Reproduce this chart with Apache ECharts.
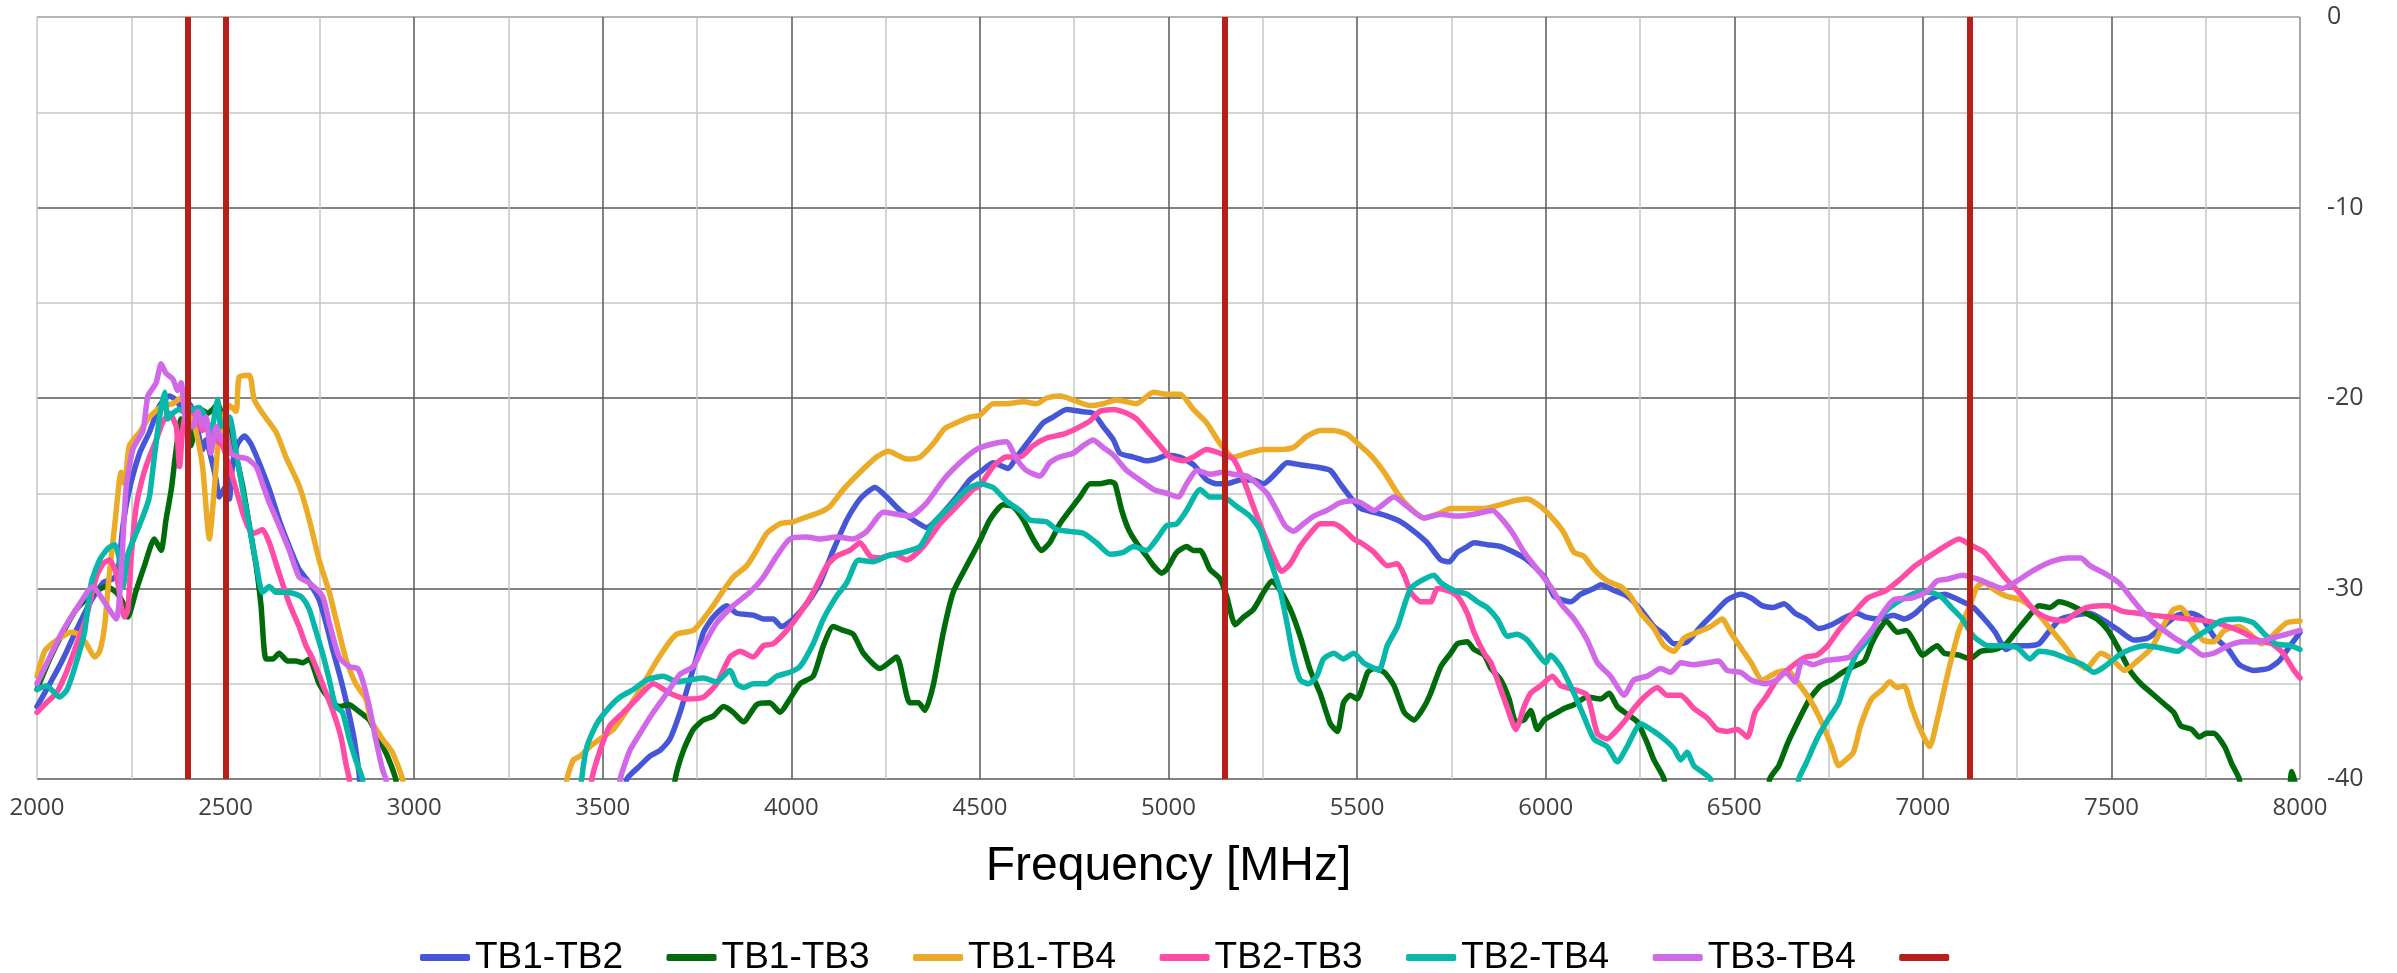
<!DOCTYPE html>
<html>
<head>
<meta charset="utf-8">
<title>Isolation TB pairs</title>
<script src="https://cdn.jsdelivr.net/npm/echarts@6/dist/echarts.min.js"></script>
<style>
  html, body { margin: 0; padding: 0; background: #ffffff; }
  #chart { width: 2397px; height: 973px; }
</style>
</head>
<body>
<div id="chart"></div>
<script>
// Coupling between test boards, [frequency MHz, level dB]. Points below -40 sit off-scale and are clipped.
const tb1tb2 = [
  [2000,-36.2],[2034,-35],[2069,-33.7],[2104,-32.2],[2139,-30.8],[2175,-29.7],[2201,-29.5],[2214,-29.2],[2228,-26.7],[2245,-24.8],
  [2272,-22.9],[2298,-21.8],[2325,-20.4],[2351,-19.9],[2369,-20.1],[2386,-20.6],[2404,-20.3],[2422,-21.3],[2439,-22.7],[2448,-22.2],
  [2461,-23.1],[2475,-24.3],[2483,-25.2],[2501,-24.6],[2510,-25.3],[2519,-23.4],[2532,-22.4],[2550,-22.0],[2567,-22.4],[2589,-23.4],
  [2616,-24.8],[2642,-26.4],[2669,-27.8],[2695,-29],[2722,-29.7],[2748,-30.6],[2766,-31.8],[2784,-33.2],[2806,-34.8],[2823,-36.2],
  [2841,-37.9],[2854,-39.7],[2870,-42],[3540,-42],[3564,-40],[3599,-39.3],[3625,-38.8],[3652,-38.5],[3678,-37.9],[3705,-36.5],
  [3731,-34.8],[3749,-33.6],[3767,-32.3],[3793,-31.5],[3829,-30.9],[3855,-31.3],[3899,-31.4],[3926,-31.6],[3952,-31.6],[3974,-32],
  [4005,-31.6],[4041,-30.8],[4076,-29.7],[4111,-28],[4147,-26.4],[4182,-25.3],[4222,-24.7],[4253,-25.2],[4288,-25.9],[4323,-26.4],
  [4359,-26.8],[4394,-26.2],[4438,-25.2],[4473,-24.3],[4500,-23.9],[4535,-23.4],[4575,-23.7],[4597,-23.1],[4632,-22.2],[4668,-21.3],
  [4694,-21],[4730,-20.6],[4765,-20.7],[4800,-20.8],[4827,-21.5],[4854,-22.2],[4871,-22.9],[4907,-23.1],[4942,-23.3],[4969,-23.2],
  [4995,-23],[5030,-23.1],[5066,-23.5],[5101,-24.3],[5128,-24.5],[5154,-24.5],[5190,-24.3],[5225,-24.3],[5252,-24.5],[5287,-23.9],
  [5314,-23.4],[5349,-23.5],[5385,-23.6],[5429,-23.8],[5455,-24.5],[5482,-25.2],[5510,-25.8],[5545,-26],[5580,-26.2],[5616,-26.5],
  [5651,-27],[5686,-27.6],[5722,-28.5],[5744,-28.6],[5766,-28.1],[5792,-27.8],[5810,-27.6],[5845,-27.7],[5881,-27.8],[5916,-28.1],
  [5951,-28.5],[5978,-29],[6000,-29.5],[6022,-30.4],[6044,-30.6],[6066,-30.7],[6093,-30.3],[6128,-30],[6146,-29.8],[6181,-30.1],
  [6216,-30.4],[6252,-31.1],[6287,-32],[6314,-32.4],[6340,-32.9],[6375,-32.8],[6411,-32],[6446,-31.3],[6481,-30.6],[6517,-30.3],
  [6545,-30.5],[6574,-30.9],[6603,-31],[6632,-30.8],[6661,-31.3],[6690,-31.6],[6724,-32.1],[6758,-31.9],[6796,-31.5],[6825,-31.3],
  [6849,-31.5],[6883,-31.6],[6922,-31.4],[6951,-31.6],[6980,-31.3],[7018,-30.6],[7057,-30.3],[7096,-30.6],[7134,-31],[7163,-31.6],
  [7192,-32.3],[7221,-33.2],[7240,-33],[7279,-33],[7308,-32.9],[7337,-32.2],[7366,-31.6],[7405,-31.4],[7443,-31.3],[7482,-31.7],
  [7520,-32.2],[7559,-32.7],[7597,-32.6],[7636,-32],[7675,-31.4],[7713,-31.3],[7742,-31.6],[7771,-32.5],[7810,-33.2],[7839,-34],
  [7877,-34.3],[7916,-34.2],[7945,-33.8],[7974,-33],[8000,-32.3]
];

const tb1tb3 = [
  [2000,-35.3],[2034,-33.7],[2069,-32.3],[2104,-31.1],[2139,-30.4],[2184,-29.9],[2210,-30.2],[2232,-30.9],[2241,-31.5],[2263,-30.1],
  [2285,-28.8],[2311,-27.4],[2329,-28],[2342,-26.4],[2356,-24.8],[2369,-22.7],[2382,-21.1],[2395,-21.7],[2408,-22.5],[2422,-21],
  [2435,-20.6],[2453,-20.8],[2466,-20.6],[2479,-20.3],[2492,-21],[2510,-21.8],[2528,-23.1],[2545,-24.6],[2563,-26.7],[2581,-28.8],
  [2594,-30.9],[2607,-33.7],[2625,-33.7],[2642,-33.4],[2664,-33.8],[2686,-33.8],[2704,-33.9],[2722,-33.7],[2748,-35],[2775,-35.8],
  [2801,-36.2],[2828,-36.1],[2850,-36.4],[2881,-36.9],[2907,-37.9],[2929,-38.8],[2951,-40],[2965,-42],[3680,-42],[3692,-40],
  [3714,-38.5],[3740,-37.4],[3767,-36.9],[3793,-36.7],[3820,-36.2],[3846,-36.5],[3873,-37],[3908,-36.1],[3943,-36],[3970,-36.5],
  [3996,-35.8],[4023,-35],[4058,-34.6],[4085,-33],[4111,-32],[4138,-32.2],[4164,-32.4],[4191,-33.4],[4235,-34.2],[4279,-33.6],
  [4314,-36],[4337,-36],[4354,-36.4],[4376,-35.1],[4403,-32.3],[4429,-30.2],[4465,-28.8],[4500,-27.5],[4526,-26.4],[4562,-25.6],
  [4588,-25.7],[4615,-26.4],[4641,-27.4],[4663,-28],[4685,-27.6],[4712,-26.6],[4738,-25.9],[4765,-25.2],[4792,-24.5],[4818,-24.5],
  [4845,-24.4],[4858,-24.5],[4876,-25.9],[4894,-26.9],[4915,-27.6],[4942,-28.3],[4960,-28.8],[4982,-29.2],[4995,-29],[5022,-28.1],
  [5048,-27.8],[5066,-28],[5084,-28],[5110,-29],[5137,-29.5],[5154,-30.4],[5177,-31.9],[5199,-31.5],[5225,-31.1],[5252,-30.2],
  [5274,-29.6],[5296,-30.1],[5323,-31.1],[5349,-32.5],[5376,-34.3],[5402,-35.5],[5429,-37.1],[5448,-37.5],[5464,-36],[5482,-35.6],
  [5500,-35.8],[5528,-34.4],[5545,-34.2],[5572,-34.4],[5598,-35.1],[5625,-36.5],[5651,-36.9],[5678,-36.2],[5695,-35.5],[5722,-34.1],
  [5748,-33.4],[5766,-32.9],[5792,-32.8],[5810,-33.2],[5837,-33.5],[5855,-34.2],[5881,-34.8],[5903,-35.8],[5921,-37],[5943,-36.9],
  [5960,-36.4],[5978,-37.4],[5996,-36.9],[6022,-36.6],[6049,-36.3],[6075,-36.1],[6110,-35.7],[6146,-35.8],[6168,-35.5],[6190,-36.2],
  [6216,-36.6],[6243,-37],[6269,-38.1],[6287,-39],[6314,-40],[6330,-42],[6580,-42],[6594,-40],[6618,-39.3],[6642,-38.1],
  [6671,-36.9],[6700,-35.8],[6729,-35.1],[6758,-34.8],[6787,-34.4],[6816,-34.1],[6845,-33.8],[6864,-32.9],[6883,-32.2],[6903,-31.7],
  [6932,-32.3],[6956,-32.2],[6980,-32.9],[6999,-33.5],[7038,-33],[7057,-33.4],[7096,-33.5],[7125,-33.7],[7153,-33.3],[7192,-33.2],
  [7221,-32.9],[7250,-32.2],[7279,-31.5],[7308,-30.9],[7337,-31],[7361,-30.7],[7395,-30.9],[7433,-31.3],[7462,-31.6],[7491,-32.2],
  [7520,-33.2],[7549,-34.3],[7578,-35],[7607,-35.5],[7636,-36],[7665,-36.5],[7684,-37.2],[7713,-37.4],[7733,-37.8],[7752,-37.6],
  [7771,-37.6],[7800,-38.3],[7819,-39.2],[7839,-40],[7855,-42],[7960,-42],[7978,-39.6],[7990,-40.5],[8000,-42]
];

const tb1tb4 = [
  [2000,-34.6],[2020,-33.3],[2040,-32.9],[2069,-32.5],[2091,-32.3],[2109,-32.4],[2131,-32.9],[2153,-33.6],[2166,-33.3],[2179,-32],
  [2192,-29.2],[2206,-26.7],[2223,-23.9],[2232,-24.5],[2245,-22.5],[2272,-21.8],[2298,-21],[2333,-20.4],[2360,-20.3],[2382,-20],
  [2400,-20.4],[2422,-21.8],[2439,-23.6],[2457,-27.4],[2470,-24.8],[2479,-22.7],[2492,-21.1],[2510,-20.4],[2528,-20.7],[2536,-18.9],
  [2563,-18.8],[2576,-20.1],[2598,-20.8],[2634,-21.8],[2660,-23.1],[2695,-24.6],[2722,-26.4],[2748,-28.5],[2775,-30.2],[2801,-32.3],
  [2819,-33.7],[2845,-35],[2872,-35.8],[2885,-36.9],[2916,-37.9],[2942,-38.6],[2969,-40],[2985,-42],[3390,-42],[3405,-40],
  [3422,-39],[3440,-38.8],[3466,-38.3],[3493,-37.9],[3528,-37.4],[3564,-36.4],[3599,-35.3],[3634,-34.1],[3670,-33],[3696,-32.4],
  [3740,-32.2],[3767,-31.6],[3793,-30.9],[3820,-30.1],[3846,-29.4],[3882,-28.8],[3908,-28],[3935,-27.1],[3970,-26.6],[4005,-26.5],
  [4032,-26.3],[4076,-26],[4102,-25.7],[4138,-24.8],[4182,-23.9],[4226,-23.1],[4257,-22.8],[4306,-23.2],[4341,-23.1],[4376,-22.4],
  [4407,-21.6],[4438,-21.3],[4473,-21],[4500,-20.9],[4535,-20.3],[4570,-20.3],[4615,-20.2],[4650,-20.3],[4677,-20],[4712,-19.9],
  [4747,-20.1],[4792,-20.4],[4827,-20.3],[4862,-20.1],[4915,-20.3],[4960,-19.7],[4995,-19.8],[5031,-19.8],[5066,-20.6],[5101,-21.3],
  [5137,-22.4],[5172,-23.1],[5208,-22.9],[5252,-22.7],[5296,-22.7],[5331,-22.6],[5367,-22],[5402,-21.7],[5438,-21.7],[5473,-21.9],
  [5508,-22.5],[5536,-23],[5572,-23.9],[5607,-25],[5642,-25.8],[5678,-26.3],[5713,-26.1],[5748,-25.8],[5792,-25.8],[5837,-25.8],
  [5881,-25.6],[5916,-25.4],[5951,-25.3],[5987,-25.7],[6022,-26.4],[6049,-27.1],[6075,-28.1],[6101,-28.3],[6128,-29],[6163,-29.6],
  [6199,-29.9],[6225,-30.4],[6252,-31.3],[6287,-32.1],[6314,-33],[6340,-33.3],[6367,-32.6],[6402,-32.3],[6437,-32],[6468,-31.6],
  [6490,-32.3],[6517,-33.1],[6545,-33.9],[6574,-34.8],[6613,-34.4],[6642,-34.3],[6671,-35],[6700,-35.8],[6729,-36.9],[6758,-38.3],
  [6777,-39.3],[6796,-39],[6816,-38.6],[6835,-37.2],[6864,-35.8],[6893,-35.3],[6912,-34.9],[6932,-35.2],[6951,-35.1],[6970,-36.2],
  [6989,-37.2],[7018,-38.3],[7038,-36.9],[7067,-34.4],[7096,-32.2],[7125,-30.9],[7144,-29.9],[7163,-29.7],[7192,-30.1],[7221,-30.4],
  [7260,-30.6],[7289,-31],[7317,-31.6],[7346,-32.3],[7375,-33],[7405,-33.8],[7433,-34.2],[7472,-33.4],[7501,-33.7],[7535,-34.3],
  [7569,-33.8],[7607,-33.1],[7636,-32],[7665,-31.1],[7684,-31],[7713,-31.8],[7742,-32.7],[7771,-32.8],[7800,-32.2],[7839,-32],
  [7868,-32.4],[7897,-32.9],[7926,-32.5],[7964,-31.8],[8000,-31.7]
];

const tb2tb3 = [
  [2000,-36.5],[2025,-36],[2051,-35.5],[2078,-34.4],[2104,-33],[2131,-31.5],[2157,-29.4],[2175,-28.7],[2192,-28.5],[2210,-29.2],
  [2223,-30.9],[2232,-31.5],[2241,-31.1],[2250,-28.3],[2263,-25.7],[2281,-24.1],[2298,-23.1],[2316,-22.2],[2333,-21.3],[2351,-20.8],
  [2369,-21.5],[2378,-23.6],[2386,-21.7],[2400,-20.4],[2422,-21],[2439,-21.7],[2457,-21.5],[2475,-22.2],[2492,-22.5],[2510,-23.6],
  [2528,-24.8],[2545,-26],[2563,-26.9],[2576,-27.1],[2598,-26.9],[2616,-27.6],[2642,-29.2],[2669,-30.8],[2695,-32],[2713,-33],
  [2731,-33.7],[2757,-35],[2784,-36.4],[2806,-37.8],[2819,-39.2],[2828,-40],[2840,-42],[3460,-42],[3471,-40],[3493,-38.5],
  [3519,-37.2],[3555,-36.5],[3590,-35.8],[3634,-35],[3678,-35.5],[3723,-35.8],[3767,-35.7],[3802,-35],[3837,-33.6],[3864,-33.3],
  [3899,-33.6],[3926,-33],[3952,-32.9],[3988,-32.2],[4023,-31.3],[4058,-30.2],[4094,-28.8],[4120,-28.3],[4155,-28],[4182,-27.6],
  [4209,-28.3],[4235,-28.4],[4270,-28.2],[4306,-28.5],[4350,-27.8],[4394,-26.6],[4438,-25.7],[4482,-24.8],[4500,-24.6],[4535,-23.6],
  [4570,-23.1],[4606,-23.1],[4641,-22.5],[4677,-22.1],[4721,-21.9],[4756,-21.6],[4792,-21.2],[4818,-20.7],[4854,-20.6],[4889,-20.8],
  [4915,-21.1],[4942,-21.7],[4977,-22.5],[5004,-23.1],[5040,-23.3],[5066,-23.1],[5101,-22.7],[5137,-22.9],[5172,-23.2],[5199,-24.3],
  [5225,-25.7],[5252,-27.1],[5278,-28.3],[5300,-29.1],[5323,-28.7],[5349,-27.8],[5376,-27.1],[5402,-26.6],[5438,-26.6],[5464,-26.9],
  [5491,-27.4],[5510,-27.6],[5545,-28.1],[5580,-28.8],[5607,-28.7],[5625,-29.3],[5642,-30.2],[5669,-30.7],[5695,-30.7],[5713,-30],
  [5739,-30.1],[5766,-30.4],[5792,-31.3],[5810,-32.3],[5837,-33.4],[5855,-33.9],[5872,-34.8],[5899,-36.3],[5921,-37.4],[5943,-36.2],
  [5960,-35.5],[5987,-35.1],[6018,-34.6],[6040,-35.1],[6075,-35.3],[6110,-35.6],[6137,-37.6],[6163,-37.9],[6181,-37.6],[6208,-37],
  [6234,-36.3],[6261,-35.7],[6296,-35.2],[6322,-35.6],[6358,-35.6],[6393,-36.3],[6428,-36.8],[6455,-37.4],[6481,-37.5],[6508,-37.4],
  [6535,-37.8],[6555,-36.5],[6584,-35.7],[6613,-34.8],[6652,-34.1],[6690,-33.6],[6719,-33.5],[6748,-33],[6777,-32.2],[6816,-31.3],
  [6854,-30.5],[6903,-30.1],[6941,-29.5],[6980,-28.8],[7018,-28.3],[7057,-27.8],[7096,-27.4],[7125,-27.7],[7163,-28.1],[7192,-28.8],
  [7221,-29.5],[7260,-30.3],[7298,-31.2],[7337,-31.6],[7375,-31.7],[7405,-31.3],[7433,-31],[7472,-30.9],[7491,-30.9],[7530,-31.2],
  [7569,-31.3],[7607,-31.4],[7655,-31.5],[7704,-31.6],[7752,-31.7],[7810,-32],[7848,-32.3],[7887,-32.7],[7926,-32.9],[7955,-33.4],
  [7984,-34.3],[8000,-34.7]
];

const tb2tb4 = [
  [2000,-35.3],[2025,-35.1],[2060,-35.7],[2080,-35.3],[2104,-33.9],[2126,-32.3],[2144,-29.7],[2166,-28.5],[2188,-27.9],[2206,-27.7],
  [2219,-28.5],[2228,-29.9],[2241,-28.2],[2263,-27.1],[2285,-26],[2298,-25.2],[2311,-23.1],[2325,-21],[2338,-19.7],[2347,-21.1],
  [2360,-20.8],[2378,-20.6],[2395,-20.8],[2413,-20.6],[2431,-20.5],[2448,-21.1],[2461,-21.8],[2479,-20.1],[2488,-21.5],[2510,-21],
  [2528,-22.9],[2545,-24.8],[2563,-26.7],[2581,-28.7],[2598,-30.2],[2616,-29.9],[2634,-30.2],[2660,-30.2],[2686,-30.3],[2704,-30.5],
  [2722,-31.1],[2739,-32.2],[2757,-33.4],[2775,-34.8],[2792,-36.2],[2810,-36.5],[2828,-37.9],[2845,-39],[2863,-40],[2875,-42],
  [3435,-42],[3444,-40],[3458,-38.3],[3484,-37.1],[3519,-36.2],[3546,-35.7],[3581,-35.3],[3617,-34.8],[3661,-34.6],[3696,-34.9],
  [3731,-34.8],[3767,-34.7],[3802,-34.9],[3837,-34.3],[3855,-35],[3873,-35.2],[3899,-35],[3935,-35],[3961,-34.6],[3996,-34.4],
  [4023,-34.1],[4058,-32.9],[4085,-31.6],[4120,-30.4],[4147,-29.7],[4178,-28.5],[4217,-28.6],[4253,-28.3],[4297,-28.1],[4341,-27.8],
  [4376,-26.6],[4420,-25.7],[4465,-24.8],[4500,-24.5],[4535,-24.7],[4570,-25.4],[4606,-25.9],[4632,-26.4],[4677,-26.5],[4703,-26.9],
  [4738,-27],[4774,-27.1],[4809,-27.6],[4845,-28.2],[4880,-28.1],[4907,-27.8],[4942,-28],[4969,-27.4],[4995,-26.7],[5022,-26.6],
  [5048,-25.9],[5084,-24.8],[5110,-25.2],[5145,-25.2],[5181,-25.7],[5216,-26.2],[5243,-26.9],[5261,-28],[5278,-29],[5296,-30.1],
  [5314,-31.8],[5331,-33.6],[5349,-34.8],[5371,-35],[5393,-34.6],[5411,-33.7],[5438,-33.4],[5464,-33.7],[5491,-33.4],[5517,-33.9],
  [5536,-34.1],[5558,-34.3],[5580,-33],[5607,-32],[5625,-30.9],[5642,-30],[5669,-29.6],[5704,-29.3],[5722,-29.7],[5757,-30.1],
  [5792,-30.3],[5819,-30.7],[5845,-31],[5872,-31.6],[5899,-32.5],[5925,-32.4],[5951,-32.7],[5978,-33.4],[6000,-33.9],[6013,-33.5],
  [6040,-34.1],[6075,-35.5],[6101,-36.7],[6128,-37.9],[6163,-38.3],[6190,-39.1],[6216,-38.3],[6252,-37.1],[6287,-37.5],[6314,-37.9],
  [6340,-38.4],[6358,-39],[6375,-38.6],[6393,-39.3],[6420,-39.7],[6437,-40],[6450,-42],[6660,-42],[6671,-40],[6690,-39.2],
  [6719,-37.9],[6748,-36.9],[6777,-36],[6796,-34.8],[6825,-33.4],[6854,-32.7],[6883,-31.6],[6912,-31],[6951,-30.5],[6989,-30.2],
  [7018,-30.2],[7047,-30.4],[7076,-31],[7105,-31.6],[7134,-32.5],[7173,-33],[7211,-33],[7250,-33.1],[7284,-33.7],[7308,-33.3],
  [7346,-33.4],[7385,-33.7],[7424,-34],[7453,-34.4],[7482,-34.1],[7520,-33.5],[7549,-33.2],[7588,-33],[7626,-33.1],[7675,-33.3],
  [7713,-32.7],[7752,-32.2],[7790,-31.7],[7839,-31.6],[7877,-31.8],[7906,-32.4],[7935,-32.9],[7974,-33],[8000,-33.2]
];

const tb3tb4 = [
  [2000,-35],[2034,-33.6],[2069,-32.2],[2104,-31.1],[2148,-29.9],[2175,-30.6],[2210,-31.6],[2223,-29.2],[2236,-24.8],[2254,-22.7],
  [2281,-21.7],[2294,-19.9],[2316,-19.2],[2329,-18.2],[2342,-18.7],[2360,-19.0],[2373,-19.6],[2382,-19.2],[2395,-21.3],[2413,-21.5],
  [2426,-20.7],[2439,-21.5],[2448,-21],[2461,-22.9],[2475,-21.5],[2488,-22.2],[2501,-21.8],[2514,-22.9],[2536,-23.1],[2558,-23.2],
  [2581,-23.6],[2598,-24.5],[2616,-25.5],[2642,-26.7],[2669,-28],[2695,-29.4],[2722,-29.7],[2757,-30.4],[2775,-31.8],[2801,-33.6],
  [2828,-34.1],[2850,-34.2],[2863,-34.8],[2881,-36.2],[2898,-37.9],[2916,-39.5],[2925,-40],[2940,-42],[3530,-42],[3546,-40],
  [3572,-38.5],[3599,-37.6],[3634,-36.5],[3670,-35.5],[3705,-34.5],[3740,-34.1],[3767,-33],[3802,-31.8],[3846,-30.9],[3890,-30.2],
  [3926,-29.4],[3961,-28.3],[3996,-27.4],[4041,-27.3],[4076,-27.4],[4120,-27.3],[4164,-27.4],[4200,-27],[4244,-26],[4279,-26.1],
  [4314,-26.2],[4359,-25.5],[4403,-24.3],[4447,-23.4],[4491,-22.7],[4535,-22.4],[4570,-22.3],[4597,-23.2],[4623,-23.8],[4659,-24.1],
  [4685,-23.4],[4712,-23.1],[4747,-22.9],[4774,-22.5],[4800,-22.2],[4827,-22.6],[4854,-23],[4889,-23.8],[4924,-24.3],[4960,-24.8],
  [4995,-25],[5026,-25.2],[5048,-24.5],[5075,-23.8],[5110,-24],[5145,-23.9],[5172,-24],[5208,-24.1],[5234,-24.5],[5261,-25],
  [5287,-25.9],[5309,-26.7],[5331,-27],[5358,-26.6],[5385,-26.2],[5420,-25.9],[5455,-25.5],[5491,-25.4],[5510,-25.5],[5545,-25.9],
  [5598,-25.2],[5633,-25.7],[5678,-26.3],[5722,-26.1],[5766,-26.2],[5810,-26.1],[5859,-25.9],[5890,-26.5],[5916,-27.2],[5943,-28.1],
  [5978,-29],[6013,-29.9],[6040,-30.8],[6075,-31.6],[6110,-32.7],[6137,-33.9],[6172,-34.6],[6208,-35.6],[6234,-34.8],[6269,-34.6],
  [6305,-34.2],[6331,-34.4],[6358,-33.9],[6393,-34],[6428,-33.9],[6459,-33.8],[6481,-34.3],[6517,-34.4],[6545,-34.8],[6584,-35],
  [6613,-34.8],[6637,-34.4],[6661,-34.9],[6680,-33.8],[6709,-34],[6738,-33.8],[6777,-33.7],[6806,-33.6],[6835,-32.9],[6864,-32.2],
  [6893,-31.3],[6922,-30.6],[6970,-30.5],[7009,-30.2],[7038,-29.6],[7067,-29.5],[7105,-29.3],[7144,-29.5],[7182,-29.8],[7211,-30],
  [7250,-29.6],[7289,-29.1],[7327,-28.7],[7356,-28.5],[7385,-28.4],[7419,-28.4],[7443,-28.8],[7482,-29.2],[7520,-29.7],[7549,-30.4],
  [7578,-31.1],[7607,-31.7],[7646,-32.3],[7675,-32.7],[7713,-33.1],[7742,-33.5],[7771,-33.4],[7810,-33],[7848,-32.8],[7887,-32.8],
  [7926,-32.6],[7964,-32.4],[8000,-32.2]
];

// Band edges marked with vertical lines (MHz)
const bandEdges = [2400, 2500, 5150, 7125];

const seriesNames = ['TB1-TB2', 'TB1-TB3', 'TB1-TB4', 'TB2-TB3', 'TB2-TB4', 'TB3-TB4'];
const seriesData = [tb1tb2, tb1tb3, tb1tb4, tb2tb3, tb2tb4, tb3tb4];
const seriesColors = ['#4557d6', '#006b0b', '#ebab27', '#ff4ca7', '#07b7a9', '#d068e8'];
const edgeColor = '#b81e1a';

const chart = echarts.init(document.getElementById('chart'), null, { renderer: 'canvas' });

const curveSeries = seriesNames.map((name, i) => ({
  name: name,
  type: 'line',
  data: seriesData[i],
  color: seriesColors[i],
  showSymbol: false,
  symbol: 'none',
  clip: true,
  smooth: 0.2,
  lineStyle: { width: 5.5, color: seriesColors[i], cap: 'round', join: 'round' },
  z: 3,
  animation: false
}));

// Dark major grid lines; the plot frame on the left/top/right is lighter.
const xLineColors = ['#c6c6c6'].concat(new Array(11).fill('#595959')).concat(['#8c8c8c']);
const yLineColors = ['#595959', '#595959', '#595959', '#595959', '#9c9c9c'];

const option = {
  backgroundColor: '#ffffff',
  animation: false,
  grid: { left: 37, right: 97, top: 17, bottom: 194, containLabel: false },
  xAxis: {
    type: 'value',
    min: 2000,
    max: 8000,
    interval: 500,
    name: 'Frequency [MHz]',
    nameLocation: 'middle',
    nameGap: 64,
    nameTextStyle: { fontFamily: 'Liberation Sans, Arial, sans-serif', fontSize: 48, color: '#000000' },
    axisLine: { show: false },
    axisTick: { show: false },
    axisLabel: {
      margin: 17, fontFamily: 'Open Sans, sans-serif', fontSize: 24, color: '#404040',
      showMinLabel: true, showMaxLabel: true,
      formatter: v => String(v)
    },
    splitLine: { show: true, lineStyle: { color: xLineColors, width: 1.5 } },
    minorTick: { show: false, splitNumber: 2 },
    minorSplitLine: { show: true, lineStyle: { color: '#c6c6c6', width: 1.5 } }
  },
  yAxis: {
    type: 'value',
    position: 'right',
    min: -40,
    max: 0,
    interval: 10,
    axisLine: { show: false },
    axisTick: { show: false },
    axisLabel: { margin: 27, fontFamily: 'Open Sans, sans-serif', fontSize: 25, color: '#404040', formatter: v => String(v) },
    splitLine: { show: true, lineStyle: { color: yLineColors, width: 1.5 } },
    minorTick: { show: false, splitNumber: 2 },
    minorSplitLine: { show: true, lineStyle: { color: '#c6c6c6', width: 1.5 } }
  },
  legend: {
    data: seriesNames.concat([' ']),
    left: 415,
    top: 934,
    icon: 'roundRect',
    itemWidth: 50,
    itemHeight: 7,
    itemGap: 43.5,
    textStyle: { fontFamily: 'Liberation Sans, Arial, sans-serif', fontSize: 37, color: '#000000' },
    selectedMode: false
  },
  series: curveSeries.concat([{
    name: ' ',
    type: 'line',
    data: [],
    color: edgeColor,
    lineStyle: { color: edgeColor, width: 6 },
    showSymbol: false,
    symbol: 'none',
    z: 5,
    markLine: {
      silent: true,
      symbol: ['none', 'none'],
      label: { show: false },
      lineStyle: { color: edgeColor, width: 6, type: 'solid' },
      data: bandEdges.map(f => ({ xAxis: f })),
      animation: false,
      z: 5
    }
  }])
};

chart.setOption(option);
</script>
</body>
</html>
